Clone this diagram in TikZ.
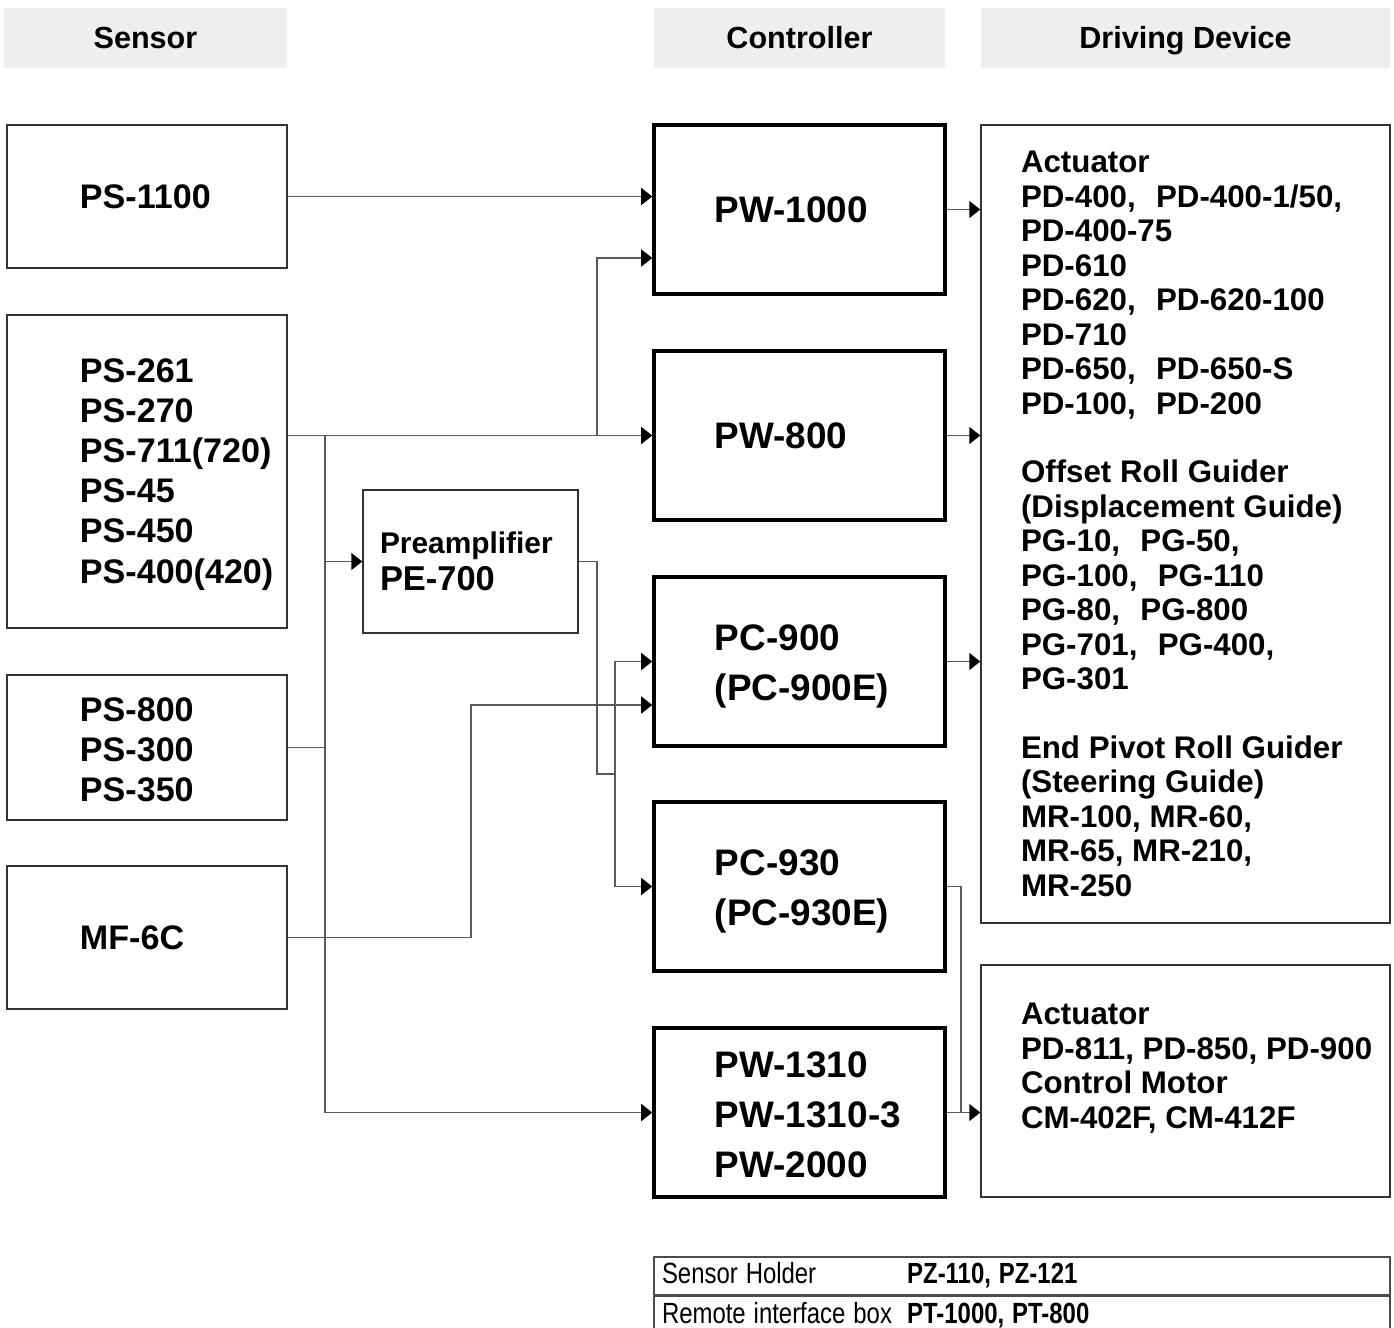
\documentclass[tikz,border=0pt]{standalone}
\usepackage{fontspec}
\usepackage{graphicx}
\setmainfont{Liberation Sans}
\usetikzlibrary{arrows.meta,positioning}
\definecolor{headgray}{HTML}{EEEEEE}
\definecolor{wiregray}{HTML}{595959}
\newcommand{\gap}{\hspace{0.65em}}
\newcommand{\rowtext}[2]{\scalebox{0.82}[1]{\makebox[2.99cm][l]{#1}\textbf{#2}}}

\begin{document}
\begin{tikzpicture}
    [headbox/.style={fill=headgray, minimum width=#1, minimum height=0.6cm, inner sep=0pt, text height=8pt, text depth=1.8pt, font=\fontsize{8.7}{10}\selectfont\bfseries},
     thinbox/.style={draw=black!80, line width=0.4pt, inner sep=0pt},
     ctrlbox/.style={draw, line width=1pt, inner sep=0pt, minimum width=2.91cm, minimum height=1.69cm},
     sensortxt/.style={inner sep=0pt, align=left, font=\fontsize{9.7}{11.4}\selectfont\bfseries},
     ctrltxt/.style={inner sep=0pt, align=left, font=\fontsize{10.5}{14.2}\selectfont\bfseries},
     drivetxt/.style={inner sep=0pt, align=left, font=\fontsize{8.9}{9.8}\selectfont\bfseries},
     wire/.style={draw=wiregray, line width=0.45pt},
     conn/.style={wire, -{Triangle[length=1.1mm, width=1.7mm, black]}},
     tablerow/.style={draw=black!70, line width=0.4pt, minimum width=7.36cm, minimum height=0.38cm, inner xsep=0.8mm, inner ysep=0pt, text width=7.2cm, text height=6.5pt, text depth=2pt, align=left, font=\fontsize{8.3}{9}\selectfont}]
  \useasboundingbox (0,0) rectangle (13.94,-13.28);

  % column heads
  \node[headbox=2.83cm] (hsensor) at (1.455,-0.38) {Sensor};
  \node[headbox=2.91cm] (hctrl) at (7.995,-0.38) {Controller};
  \node[headbox=4.09cm] (hdrive) at (11.855,-0.38) {Driving Device};

  % sensors
  \node[thinbox, minimum width=2.8cm, minimum height=1.43cm] (ps1100) at (1.47,-1.965) {};
  \node[thinbox, minimum width=2.8cm, minimum height=3.13cm] (ps261) at (1.47,-4.715) {};
  \node[thinbox, minimum width=2.8cm, minimum height=1.45cm] (ps800) at (1.47,-7.475) {};
  \node[thinbox, minimum width=2.8cm, minimum height=1.43cm] (mf6c) at (1.47,-9.375) {};
  \node[sensortxt, right=7.3mm of ps1100.west] (ps1100t) {PS-1100};
  \node[sensortxt, right=7.3mm of ps261.west, yshift=-0.3mm] (ps261t) {PS-261\\PS-270\\PS-711(720)\\PS-45\\PS-450\\PS-400(420)};
  \node[sensortxt, right=7.3mm of ps800.west, yshift=-0.2mm] (ps800t) {PS-800\\PS-300\\PS-350};
  \node[sensortxt, right=7.3mm of mf6c.west] (mf6ct) {MF-6C};

  % preamplifier
  \node[thinbox, minimum width=2.15cm, minimum height=1.43cm] (pe700) at (4.705,-5.615) {};
  \node[inner sep=0pt, align=left, font=\fontsize{8.5}{10.5}\selectfont\bfseries, right=1.7mm of pe700.west] (pe700t)
    {Preamplifier\\{\fontsize{9.8}{10.5}\selectfont PE-700}};

  % controllers
  \node[ctrlbox] (pw1000) at (7.995,-2.095) {};
  \node[ctrlbox] (pw800) at (7.995,-4.355) {};
  \node[ctrlbox] (pc900) at (7.995,-6.615) {};
  \node[ctrlbox] (pc930) at (7.995,-8.865) {};
  \node[ctrlbox] (pw1310) at (7.995,-11.125) {};
  \node[ctrltxt, right=6.2mm of pw1000.west] (pw1000t) {PW-1000};
  \node[ctrltxt, right=6.2mm of pw800.west] (pw800t) {PW-800};
  \node[ctrltxt, right=6.2mm of pc900.west, yshift=-0.5mm] (pc900t) {PC-900\\(PC-900E)};
  \node[ctrltxt, right=6.2mm of pc930.west, yshift=-0.5mm] (pc930t) {PC-930\\(PC-930E)};
  \node[ctrltxt, right=6.2mm of pw1310.west, yshift=-0.2mm] (pw1310t) {PW-1310\\PW-1310-3\\PW-2000};

  % driving devices
  \node[thinbox, minimum width=4.09cm, minimum height=7.98cm] (d1) at (11.855,-5.24) {};
  \node[thinbox, minimum width=4.09cm, minimum height=2.32cm] (d2) at (11.855,-10.81) {};
  \node[drivetxt, right=4mm of d1.west] (d1t)
    {Actuator\\
     PD-400,\gap PD-400-1/50,\\
     PD-400-75\\
     PD-610\\
     PD-620,\gap PD-620-100\\
     PD-710\\
     PD-650,\gap PD-650-S\\
     PD-100,\gap PD-200\\[9.8pt]
     Offset Roll Guider\\
     (Displacement Guide)\\
     PG-10,\gap PG-50,\\
     PG-100,\gap PG-110\\
     PG-80,\gap PG-800\\
     PG-701,\gap PG-400,\\
     PG-301\\[9.8pt]
     End Pivot Roll Guider\\
     (Steering Guide)\\
     MR-100, MR-60,\\
     MR-65, MR-210,\\
     MR-250};
  \node[drivetxt, right=4mm of d2.west, yshift=1.3mm] (d2t)
    {Actuator\\PD-811, PD-850, PD-900\\Control Motor\\CM-402F, CM-412F};

  % sensor side wiring
  \coordinate (split) at (5.97,-4.355);
  \coordinate (bus) at (3.25,-4.355);
  \coordinate (pedrop) at (5.97,-7.74);
  \coordinate (pefork) at (6.15,-7.74);
  \coordinate (mfturn) at (4.71,-7.05);
  \draw[conn] (ps1100.east) -- (ps1100.east -| pw1000.west);
  \draw[conn] (ps261.east |- pw800.west) -- (pw800.west);
  \draw[conn] (split) |- ([yshift=-4.85mm]pw1000.west);
  \draw[conn] (bus) |- (pw1310.west);
  \draw[wire] (ps800.east) -- (ps800.east -| bus);
  \draw[conn] (bus |- pe700.west) -- (pe700.west);
  \draw[wire] (pe700.east) -| (pedrop) -- (pefork);
  \draw[conn] (pefork) |- (pc900.west);
  \draw[conn] (pefork) |- (pc930.west);
  \draw[conn] (mf6c.east) -| (mfturn) -- (mfturn -| pc900.west);

  % controller to driving device
  \foreach \c in {pw1000,pw800,pc900}
    \draw[conn] (\c.east) -- (\c.east -| d1.west);
  \coordinate (merge) at (9.61,-11.125);
  \draw[conn] (pw1310.east) -- (pw1310.east -| d2.west);
  \draw[wire] (pc930.east) -| (merge);

  % accessories
  \node[tablerow] (holder) at (10.22,-12.76) {\rowtext{Sensor Holder}{PZ-110, PZ-121}};
  \node[tablerow, below=0pt of holder] (remote) {\rowtext{Remote interface box}{PT-1000, PT-800}};
\end{tikzpicture}
\end{document}
